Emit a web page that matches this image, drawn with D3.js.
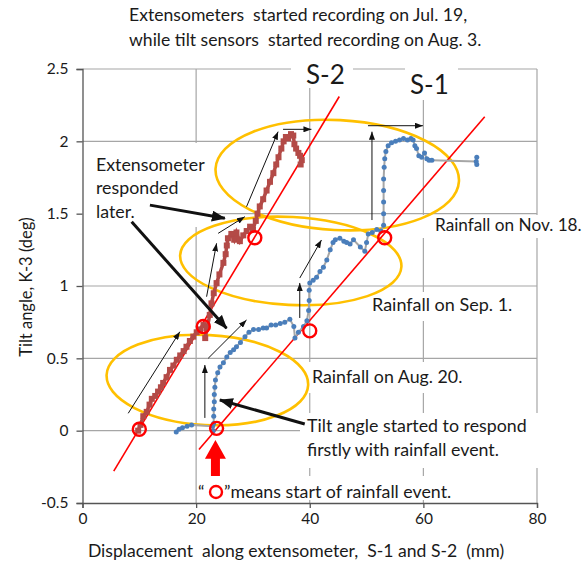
<!DOCTYPE html>
<html>
<head>
<meta charset="utf-8">
<script src="https://cdn.jsdelivr.net/npm/d3@7"></script>
<style>
  body { margin: 0; background: #fff; }
  text { font-family: Lato, "Open Sans", sans-serif; fill: #1a1a1a; }
</style>
</head>
<body>
<svg id="chart" width="586" height="566"></svg>
<script>
// ---- data (x = displacement mm, y = tilt deg) ----
const xTicks = [0, 20, 40, 60, 80];
const yTicks = [-0.5, 0, 0.5, 1, 1.5, 2, 2.5];

// S-2 extensometer vs K-3 tilt
const s2Data = [
  [9.8, 0.0], [10.2, 0.04], [10.7, 0.1], [11.3, 0.13], [11.8, 0.18], [12.2, 0.22],
  [12.8, 0.24], [13.3, 0.27], [13.8, 0.3], [14.2, 0.33], [14.8, 0.37], [15.4, 0.42],
  [16.0, 0.45], [16.6, 0.49], [17.2, 0.52], [17.8, 0.55], [18.3, 0.58], [18.9, 0.62],
  [19.5, 0.65], [20.1, 0.68], [20.7, 0.7], [21.3, 0.73], [21.8, 0.71], [21.6, 0.64],
  [22.0, 0.72], [22.4, 0.8], [22.7, 0.88], [23.1, 0.95], [23.6, 1.02], [24.1, 1.08],
  [24.8, 1.16], [25.2, 1.22], [25.4, 1.28], [25.6, 1.33], [26.2, 1.36], [26.7, 1.32],
  [27.1, 1.37], [27.7, 1.31], [28.3, 1.35], [28.9, 1.38], [29.5, 1.41], [30.0, 1.39],
  [30.5, 1.45], [30.8, 1.5], [31.2, 1.55], [31.8, 1.6], [32.4, 1.66], [33.0, 1.72],
  [33.6, 1.78], [34.1, 1.84], [34.5, 1.89], [35.0, 1.95], [35.4, 2.0], [35.8, 2.03],
  [36.2, 2.02], [36.7, 2.05], [37.1, 2.04], [37.3, 1.98], [37.6, 1.95], [38.0, 1.92],
  [38.3, 1.9], [38.6, 1.87], [38.4, 1.84]
];

// S-1 extensometer vs K-3 tilt
const s1Data = [
  [16.5, -0.01], [17.0, 0.01], [17.6, 0.02], [18.4, 0.03], [19.2, 0.04], [22.9, 0.03],
  [23.0, 0.0], [23.1, 0.05], [23.1, 0.1], [23.1, 0.15], [23.2, 0.2], [23.2, 0.25],
  [23.3, 0.3], [23.4, 0.35], [23.8, 0.4], [24.2, 0.44], [24.8, 0.47], [25.4, 0.51],
  [26.0, 0.54], [26.6, 0.56], [27.1, 0.58], [27.8, 0.61], [28.6, 0.65], [29.3, 0.68],
  [30.1, 0.7], [31.0, 0.7], [31.8, 0.71], [32.4, 0.71], [33.2, 0.73], [34.0, 0.73],
  [34.8, 0.74], [35.6, 0.75], [36.5, 0.77], [37.2, 0.72], [37.4, 0.64], [38.0, 0.68],
  [38.9, 0.72], [39.5, 0.76], [39.8, 0.83], [39.9, 0.9], [39.9, 0.97], [40.0, 1.02],
  [40.6, 1.04], [41.2, 1.06], [41.8, 1.1], [42.4, 1.13], [43.0, 1.18], [43.6, 1.25],
  [44.1, 1.3], [44.5, 1.32], [45.3, 1.33], [46.0, 1.31], [46.5, 1.3], [47.1, 1.29],
  [47.7, 1.32], [48.9, 1.27], [49.7, 1.24], [50.0, 1.3], [50.3, 1.36], [51.0, 1.37],
  [51.8, 1.39], [52.5, 1.38], [53.0, 1.42], [53.0, 1.5], [53.0, 1.58], [53.0, 1.66],
  [53.0, 1.74], [53.1, 1.82], [53.2, 1.88], [53.4, 1.93], [53.8, 1.97], [54.4, 1.99],
  [55.1, 2.0], [55.8, 2.01], [56.5, 2.02], [57.2, 2.01], [57.8, 2.02], [58.2, 2.01],
  [58.5, 1.97], [58.8, 1.95], [59.2, 1.9], [59.7, 1.89], [60.2, 1.92], [60.6, 1.88],
  [61.0, 1.87], [61.5, 1.87], [69.3, 1.86], [69.4, 1.89], [69.4, 1.84]
];

const s2Trend = [[5.5, -0.28], [45.2, 2.31]];
const s1Trend = [[20.5, -0.13], [70.8, 2.17]];

// start of rainfall events
const rainStarts = [[10.0, 0.01], [21.25, 0.72], [30.33, 1.334], [23.6, 0.016], [40.0, 0.69], [53.19, 1.334]];

// rainfall response zones: centre x, centre y, half width (mm), half height (deg)
const zones = [
  [21.98, 0.35, 17.76, 0.311],
  [36.66, 1.173, 19.5, 0.304],
  [44.84, 1.767, 21.45, 0.38]
];

// thin trend arrows [x1, y1, x2, y2]
const thinArrows = [
  [8.05, 0.12, 17.14, 0.684], [21.54, 0.088, 21.54, 0.454], [22.12, 0.5, 28.87, 0.765],
  [21.84, 0.926, 23.6, 1.295], [23.88, 1.364, 28.57, 1.479], [28.87, 1.548, 34.43, 2.067],
  [35.3, 2.083, 40.3, 2.083], [38.24, 0.779, 38.24, 1.021], [38.24, 1.055, 42.06, 1.318],
  [50.95, 1.456, 50.95, 2.067], [50.25, 2.108, 59.92, 2.108]
];

// callout arrows [x1, y1, x2, y2]
const calloutArrows = [
  [11.87, 1.559, 25.05, 1.468],
  [8.65, 1.444, 25.35, 0.708],
  [39.12, 0.046, 24.18, 0.212]
];

// ---- chart ----
const W = 586, H = 566;
const margin = { top: 69, right: 49, bottom: 63, left: 82.5 };
const svg = d3.select("#chart");

const x = d3.scaleLinear().domain([0, 80]).range([margin.left, W - margin.right]);
const y = d3.scaleLinear().domain([-0.5, 2.5]).range([H - margin.bottom, margin.top]);

const defs = svg.append("defs");
defs.append("marker").attr("id", "thin").attr("markerUnits", "userSpaceOnUse")
  .attr("viewBox", "0 0 8 6").attr("refX", 8).attr("refY", 3)
  .attr("markerWidth", 8).attr("markerHeight", 6).attr("orient", "auto")
  .append("path").attr("d", "M0,0L8,3L0,6Z").attr("fill", "#111");
defs.append("marker").attr("id", "thick").attr("markerUnits", "userSpaceOnUse")
  .attr("viewBox", "0 0 14 11").attr("refX", 13).attr("refY", 5.5)
  .attr("markerWidth", 14).attr("markerHeight", 11).attr("orient", "auto")
  .append("path").attr("d", "M0,0L14,5.5L0,11Z").attr("fill", "#111");

// grid
const grid = svg.append("g").attr("stroke", "#a6a6a6").attr("stroke-width", 1.2);
grid.selectAll(".gx").data(xTicks.slice(1)).enter().append("line")
  .attr("x1", d => x(d)).attr("x2", d => x(d))
  .attr("y1", y(-0.5)).attr("y2", y(2.5));
grid.selectAll(".gy").data(yTicks.slice(1)).enter().append("line")
  .attr("x1", x(0)).attr("x2", x(80))
  .attr("y1", d => y(d)).attr("y2", d => y(d));

// white label boxes covering the grid
const boxes = [
  [291, 58, 62, 30], [405, 58, 53, 42], [77, 143, 139, 84], [420, 215, 170, 23],
  [365, 292, 155, 29], [305, 362, 165, 31], [300, 413, 245, 55], [198, 476, 267, 24]
];
svg.append("g").selectAll("rect").data(boxes).enter().append("rect")
  .attr("x", d => d[0]).attr("y", d => d[1]).attr("width", d => d[2]).attr("height", d => d[3])
  .attr("fill", "#fff");

// axes
const yAxis = svg.append("g").attr("transform", `translate(${x(0)},0)`)
  .call(d3.axisLeft(y).tickValues(yTicks).tickSize(6).tickPadding(8).tickFormat(d => String(d)));
const xAxis = svg.append("g").attr("transform", `translate(0,${y(-0.5)})`)
  .call(d3.axisBottom(x).tickValues(xTicks).tickSize(5).tickPadding(5).tickFormat(d => String(d)));
[xAxis, yAxis].forEach(a => {
  a.select(".domain").attr("stroke", "#555").attr("stroke-width", 1.3);
  a.selectAll(".tick line").attr("stroke", "#555").attr("stroke-width", 1.3);
  a.selectAll(".tick text").style("font-family", "Lato, sans-serif").style("font-size", "15.5px").attr("fill", "#1a1a1a");
});

// zones
svg.append("g").selectAll("ellipse").data(zones).enter().append("ellipse")
  .attr("cx", d => x(d[0])).attr("cy", d => y(d[1]))
  .attr("rx", d => x(d[2]) - x(0)).attr("ry", d => y(0) - y(d[3]))
  .attr("transform", d => `rotate(3 ${x(d[0])} ${y(d[1])})`)
  .attr("fill", "none").attr("stroke", "#ffc000").attr("stroke-width", 2.6);

// trend lines
const line = d3.line().x(d => x(d[0])).y(d => y(d[1]));
[s2Trend, s1Trend].forEach(t => svg.append("path").attr("d", line(t))
  .attr("stroke", "#ff0000").attr("stroke-width", 1.6).attr("fill", "none"));

// thin arrows
svg.append("g").selectAll("line").data(thinArrows).enter().append("line")
  .attr("x1", d => x(d[0])).attr("y1", d => y(d[1])).attr("x2", d => x(d[2])).attr("y2", d => y(d[3]))
  .attr("stroke", "#111").attr("stroke-width", 1).attr("marker-end", "url(#thin)");

// S-1 series
svg.append("path").attr("d", line(s1Data)).attr("fill", "none")
  .attr("stroke", "#a6a6a6").attr("stroke-width", 2);
svg.append("g").selectAll("circle").data(s1Data).enter().append("circle")
  .attr("cx", d => x(d[0])).attr("cy", d => y(d[1])).attr("r", 2.5)
  .attr("fill", "#4a7ebb");

// S-2 series
svg.append("path").attr("d", line(s2Data)).attr("fill", "none")
  .attr("stroke", "#b34a47").attr("stroke-width", 3.5);
svg.append("g").selectAll("rect").data(s2Data).enter().append("rect")
  .attr("x", d => x(d[0]) - 3).attr("y", d => y(d[1]) - 3).attr("width", 6).attr("height", 6)
  .attr("fill", "#b34a47");

// rainfall start circles
svg.append("g").selectAll("circle").data(rainStarts).enter().append("circle")
  .attr("cx", d => x(d[0])).attr("cy", d => y(d[1])).attr("r", 6.5)
  .attr("fill", "none").attr("stroke", "#ff0000").attr("stroke-width", 2.4);

// callout arrows
svg.append("g").selectAll("line").data(calloutArrows).enter().append("line")
  .attr("x1", d => x(d[0])).attr("y1", d => y(d[1])).attr("x2", d => x(d[2])).attr("y2", d => y(d[3]))
  .attr("stroke", "#111").attr("stroke-width", 3).attr("marker-end", "url(#thick)");

// red block arrow under the first S-1 response
const ax = x(23.4), tipY = y(-0.064), baseY = y(-0.194), tailY = y(-0.313);
svg.append("path")
  .attr("d", `M${ax},${tipY}L${ax + 10.5},${baseY}L${ax + 4.5},${baseY}L${ax + 4.5},${tailY}` +
             `L${ax - 4.5},${tailY}L${ax - 4.5},${baseY}L${ax - 10.5},${baseY}Z`)
  .attr("fill", "#ff0000");

// texts
const label = (t, px, py, size, anchor) => svg.append("text").attr("x", px).attr("y", py)
  .attr("font-size", size).attr("text-anchor", anchor || "start").text(t);

label("Extensometers  started recording on Jul. 19,", 129, 21, 17.6).attr("xml:space", "preserve");
label("while tilt sensors  started recording on Aug. 3.", 129, 46, 17.6).attr("xml:space", "preserve");
label("S-2", 306, 84, 26);
label("S-1", 410, 94, 26);
label("Extensometer", 96, 171, 17.8);
label("responded", 96, 194, 17.8);
label("later.", 96, 218, 17.8);
label("Rainfall on Nov. 18.", 435, 231, 17.2);
label("Rainfall on Sep. 1.", 372, 311, 18);
label("Rainfall on Aug. 20.", 312, 383, 17.8);
label("Tilt angle started to respond", 307, 432, 17.8);
label("firstly with rainfall event.", 307, 456, 17.8);
label("\u201c", 198, 498, 17.8);
svg.append("circle").attr("cx", 216).attr("cy", 492).attr("r", 6)
  .attr("fill", "none").attr("stroke", "#ff0000").attr("stroke-width", 2.4);
label("\u201dmeans start of rainfall event.", 224, 498, 17.8);

label("Displacement  along extensometer,  S-1 and S-2  (mm)", 296, 557, 17.6, "middle").attr("xml:space", "preserve");
svg.append("text").attr("transform", "translate(32,287) rotate(-90)")
  .attr("font-size", 16.5).attr("text-anchor", "middle").text("Tilt angle, K-3 (deg)");
</script>
</body>
</html>
